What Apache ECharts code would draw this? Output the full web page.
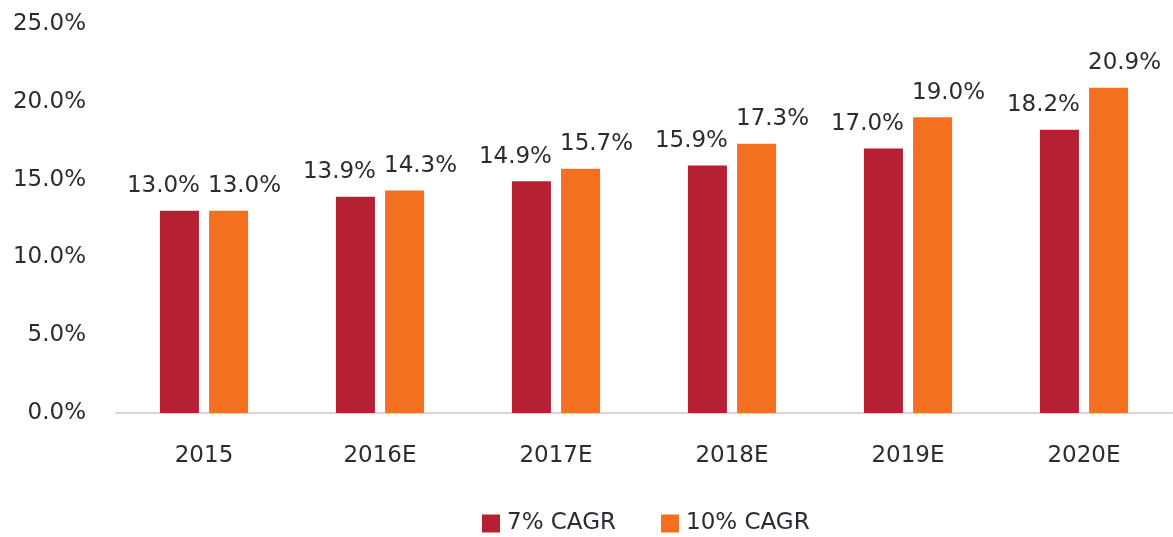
<!DOCTYPE html>
<html>
<head>
<meta charset="utf-8">
<script src="https://cdn.jsdelivr.net/npm/echarts@6/dist/echarts.min.js"></script>
<style>
  html, body { margin: 0; padding: 0; background: #fff; }
  #chart { width: 1173px; height: 537px; }
</style>
</head>
<body>
<div id="chart"></div>
<script>
// data
var years = ['2015', '2016E', '2017E', '2018E', '2019E', '2020E'];
var cagr7 = [13.0, 13.9, 14.9, 15.9, 17.0, 18.2];
var cagr10 = [13.0, 14.3, 15.7, 17.3, 19.0, 20.9];
var seriesNames = ['7% CAGR', '10% CAGR'];

var FONT = '"DejaVu Sans", sans-serif';
var TEXT = '#2b2b33';

var chart = echarts.init(document.getElementById('chart'));

function pct(v) { return v.toFixed(1) + '%'; }

chart.setOption({
  animation: false,
  textStyle: { fontFamily: FONT },
  grid: { left: 116, right: 1, top: 24, bottom: 124 },
  legend: {
    data: seriesNames,
    top: 507,
    left: 477,
    itemWidth: 18,
    itemHeight: 18,
    itemGap: 45,
    icon: 'rect',
    textStyle: { fontSize: 23, color: TEXT, fontFamily: FONT, padding: [0, 0, 0, 2] }
  },
  xAxis: {
    type: 'category',
    data: years,
    axisLine: { lineStyle: { color: '#d6d6d6', width: 2 } },
    axisTick: { show: false },
    axisLabel: { fontSize: 23, color: TEXT, margin: 32, fontFamily: FONT }
  },
  yAxis: {
    type: 'value',
    min: 0,
    max: 25,
    interval: 5,
    splitLine: { show: false },
    axisLine: { show: false },
    axisLabel: { fontSize: 23, color: TEXT, margin: 30, fontFamily: FONT, formatter: pct }
  },
  series: [
    {
      name: seriesNames[0],
      type: 'bar',
      data: cagr7,
      barWidth: 39,
      barGap: '26%',
      itemStyle: { color: '#b52033' },
      label: { show: true, position: 'top', distance: 13, offset: [-16, 0], fontSize: 23, color: TEXT, fontFamily: FONT, formatter: function (p) { return pct(p.value); } }
    },
    {
      name: seriesNames[1],
      type: 'bar',
      data: cagr10,
      barWidth: 39,
      itemStyle: { color: '#f37021' },
      label: { show: true, position: 'top', distance: 13, offset: [16, 0], fontSize: 23, color: TEXT, fontFamily: FONT, formatter: function (p) { return pct(p.value); } }
    }
  ]
});
</script>
</body>
</html>
